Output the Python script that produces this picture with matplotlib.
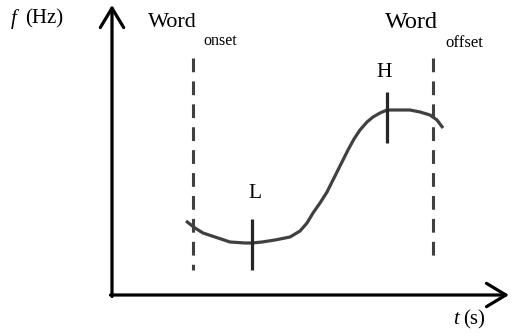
import matplotlib
matplotlib.use("Agg")
import matplotlib.pyplot as plt

plt.rcParams['font.family'] = ['Liberation Serif', 'DejaVu Serif']

# pitch contour (pixel-like schematic coordinates, y grows downward)
curve_t = [186, 195, 203, 215, 230, 245, 252, 262, 275, 290, 300, 307, 313, 320,
           327, 333, 338, 343, 348, 354, 360, 367, 373, 380, 387, 400, 410, 420,
           430, 437, 443]
curve_f = [221, 228, 233, 237, 242, 243, 243, 242, 240, 237, 231, 223, 213, 203,
           192, 180, 170, 160, 150, 139, 130, 122, 117, 113, 110, 110, 110, 112,
           115, 120, 128]

word_bounds = [193, 433]          # onset, offset
bound_top = [58, 58]
bound_bottom = [270, 264]
bound_labels = ["onset", "offset"]

tone_labels = ["L", "H"]
tone_t = [252, 387]
tone_top = [219, 92]
tone_bottom = [270, 143]
label_t = [255, 384]
label_base = [198, 77]

gray = "#404040"

fig = plt.figure(figsize=(5.12, 3.36), dpi=100)
ax = fig.add_axes([0, 0, 1, 1])
ax.set_xlim(0, 512)
ax.set_ylim(336, 0)
ax.axis("off")

# axes with open arrow heads
arrow = dict(arrowstyle="->,head_length=0.7,head_width=0.42", lw=2.3,
             color="black", shrinkA=0, shrinkB=0, mutation_scale=20)
ax.annotate("", xy=(112, 5), xytext=(112, 296.5), arrowprops=arrow)
ax.annotate("", xy=(509, 295), xytext=(110.5, 295), arrowprops=arrow)

ax.text(11, 19, "f", fontsize=15, style="italic", va="center", ha="left")
ax.text(25, 19, "(Hz)", fontsize=15, va="center", ha="left")
ax.text(453, 320, "t", fontsize=15, style="italic", va="center", ha="left")
ax.text(463, 320, "(s)", fontsize=15, va="center", ha="left")

# word boundaries
for x, y0, y1 in zip(word_bounds, bound_top, bound_bottom):
    ax.plot([x, x], [y0, y1], color=gray, lw=2.2, dashes=(4.5, 3))

ax.text(148, 27, "Word", fontsize=16, va="baseline", ha="left")
ax.text(203, 45, bound_labels[0], fontsize=11.5, va="baseline", ha="left")
ax.text(385, 28, "Word", fontsize=17.5, va="baseline", ha="left")
ax.text(445, 47, bound_labels[1], fontsize=12, va="baseline", ha="left")

# F0 contour
ax.plot(curve_t, curve_f, color=gray, lw=2.3, solid_capstyle="butt")

# tone targets
for x, y0, y1 in zip(tone_t, tone_top, tone_bottom):
    ax.plot([x, x], [y0, y1], color="#262626", lw=2.3, solid_capstyle="butt")
for lab, x, yb in zip(tone_labels, label_t, label_base):
    ax.text(x, yb, lab, fontsize=15.5, ha="center", va="baseline")

fig.savefig("out.png", dpi=100)
